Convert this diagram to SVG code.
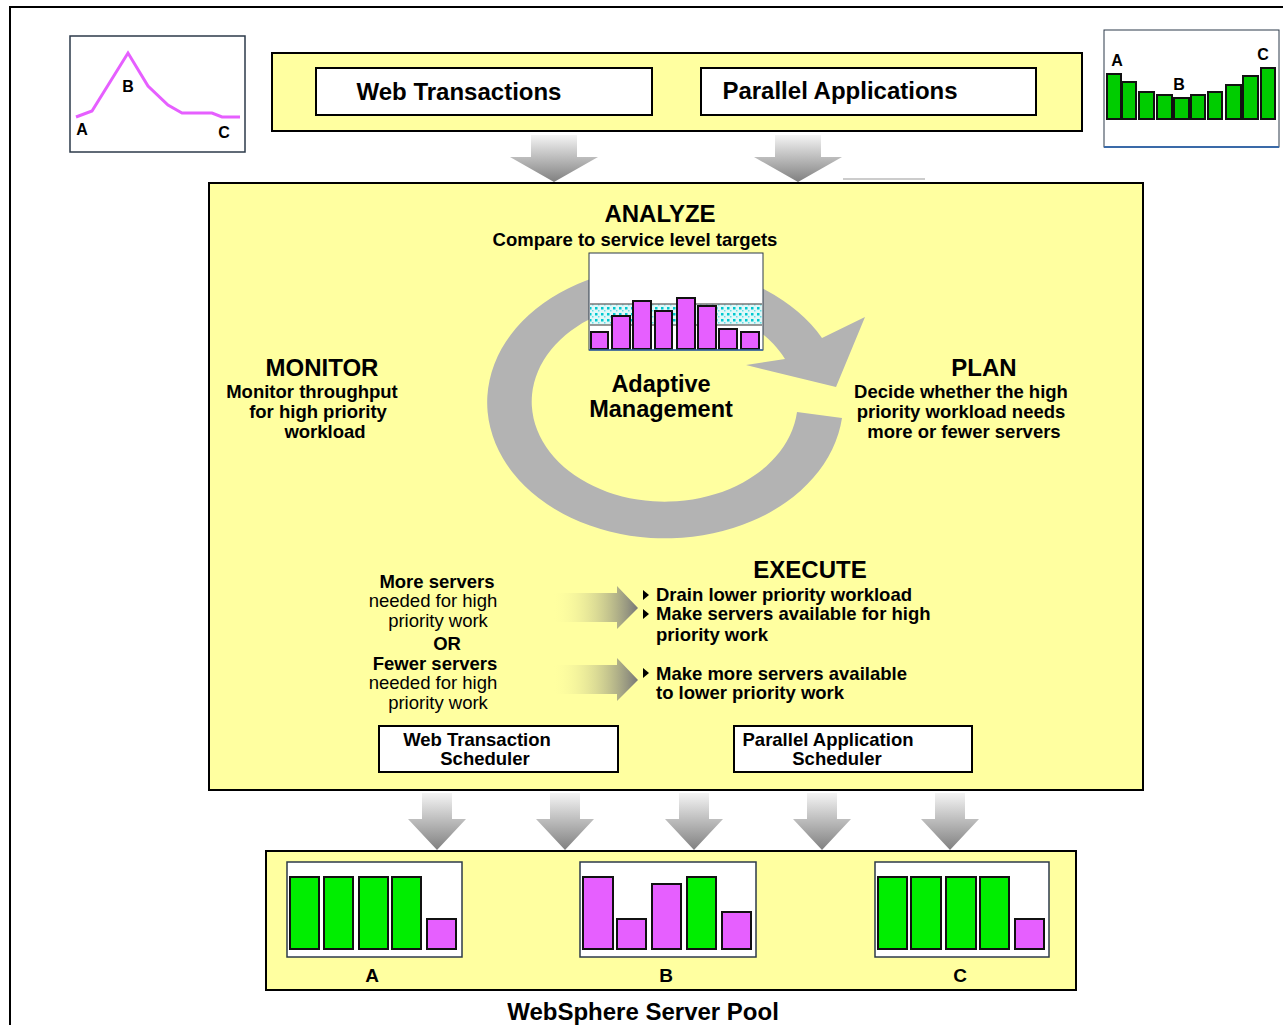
<svg xmlns="http://www.w3.org/2000/svg" width="1283" height="1025" viewBox="0 0 1283 1025">
<defs>
  <linearGradient id="gDown" x1="0" y1="0" x2="0" y2="1">
    <stop offset="0" stop-color="#f4f4f4"/>
    <stop offset="1" stop-color="#808080"/>
  </linearGradient>
  <linearGradient id="gRight" x1="0" y1="0" x2="1" y2="0">
    <stop offset="0" stop-color="#ffffa0" stop-opacity="0"/>
    <stop offset="1" stop-color="#777777"/>
  </linearGradient>
  <pattern id="dots" width="6" height="6" patternUnits="userSpaceOnUse">
    <rect width="6" height="6" fill="#dff8f8"/>
    <rect x="1" y="1" width="2.5" height="2.5" fill="#00c8d0"/>
    <rect x="4" y="4" width="1.5" height="1.5" fill="#60e0e8"/>
  </pattern>
  <path id="downBig" d="M-23,0 H23 V22 H44 L0,47 L-44,22 H-23 Z"/>
  <path id="downSmall" d="M-15,0 H15 V26 H29 L0,57 L-29,26 H-15 Z"/>
  <path id="rightArr" d="M0,7 H65 V0 L86,22 L65,43 V36 H0 Z"/>
  <path id="bullet" d="M0,-5 L6,0 L0,5 Z"/>
</defs>
<style>
  .b { font-family: "Liberation Sans", Arial, sans-serif; font-weight: bold; fill: #000; }
  .n { font-family: "Liberation Sans", Arial, sans-serif; font-weight: normal; fill: #000; }
  .yel { fill: #ffffa0; stroke: #000; stroke-width: 2; }
  .wbox { fill: #fff; stroke: #000; stroke-width: 2; }
  .chart { fill: #fff; stroke: #2c3a4a; stroke-width: 1.5; }
  .grn { fill: #00ee00; stroke: #111; stroke-width: 2; }
  .grn2 { fill: #00cc00; stroke: #111; stroke-width: 2; }
  .pnk { fill: #e65fff; stroke: #111; stroke-width: 2; }
  .gray { fill: url(#gDown); }
</style>
<rect width="1283" height="1025" fill="#fff"/>
<!-- outer frame -->
<path d="M10,1025 V7 H1283" fill="none" stroke="#000" stroke-width="2"/>

<!-- top-left chart -->
<g id="chart-left">
  <rect class="chart" x="70" y="36" width="175" height="116"/>
  <polyline points="76,117 92,111 128,53 148,86 168,105 182,113 212,113 222,117 240,117" fill="none" stroke="#e65fff" stroke-width="3"/>
  <text class="b" x="82" y="135" font-size="16" text-anchor="middle">A</text>
  <text class="b" x="128" y="92" font-size="16" text-anchor="middle">B</text>
  <text class="b" x="224" y="138" font-size="16" text-anchor="middle">C</text>
</g>

<!-- top-right chart -->
<g id="chart-right">
  <rect x="1104" y="30" width="175" height="117" fill="#fff" stroke="#2c3a4a" stroke-width="1"/>
  <line x1="1104" y1="147" x2="1279" y2="147" stroke="#3a6aa8" stroke-width="2"/>
  <rect class="grn2" x="1107" y="74" width="14" height="45"/>
  <rect class="grn2" x="1122" y="82" width="14" height="37"/>
  <rect class="grn2" x="1139" y="92" width="15" height="27"/>
  <rect class="grn2" x="1157" y="95" width="15" height="24"/>
  <rect class="grn2" x="1174" y="98" width="15" height="21"/>
  <rect class="grn2" x="1191" y="95" width="14" height="24"/>
  <rect class="grn2" x="1208" y="92" width="14" height="27"/>
  <rect class="grn2" x="1226" y="85" width="15" height="34"/>
  <rect class="grn2" x="1243" y="76" width="15" height="43"/>
  <rect class="grn2" x="1261" y="68" width="14" height="51"/>
  <text class="b" x="1117" y="66" font-size="16" text-anchor="middle">A</text>
  <text class="b" x="1179" y="90" font-size="16" text-anchor="middle">B</text>
  <text class="b" x="1263" y="60" font-size="16" text-anchor="middle">C</text>
</g>

<!-- top workload box -->
<g id="workloads">
  <rect class="yel" x="272" y="53" width="810" height="78"/>
  <rect class="wbox" x="316" y="68" width="336" height="47"/>
  <text class="b" x="459" y="100" font-size="24" text-anchor="middle">Web Transactions</text>
  <rect class="wbox" x="701" y="68" width="335" height="47"/>
  <text class="b" x="840" y="99" font-size="24" text-anchor="middle">Parallel Applications</text>
</g>

<!-- connectors -->
<g id="connectors">
  <use href="#downBig" class="gray" x="554" y="135"/>
  <use href="#downBig" class="gray" x="798" y="135"/>
  <line x1="843" y1="179" x2="925" y2="179" stroke="#999" stroke-width="1"/>
  <use href="#downSmall" class="gray" x="437" y="793"/>
  <use href="#downSmall" class="gray" x="565" y="793"/>
  <use href="#downSmall" class="gray" x="694" y="793"/>
  <use href="#downSmall" class="gray" x="822" y="793"/>
  <use href="#downSmall" class="gray" x="950" y="793"/>
</g>

<!-- main adaptive management box -->
<g id="adaptive">
  <rect class="yel" x="209" y="183" width="934" height="607"/>
  <!-- cycle arrow -->
  <path d="M836,387 L865,317 L822,338 A178,136 0 1 0 842,418 L797,412 A133,100 0 1 1 785,359 L746,365 Z" fill="#b3b3b3"/>
  <text class="b" x="660" y="222" font-size="24" text-anchor="middle">ANALYZE</text>
  <text class="b" x="635" y="246" font-size="18.5" text-anchor="middle">Compare to service level targets</text>
  <!-- analyze chart -->
  <rect x="589" y="253" width="174" height="97" fill="#fff" stroke="#2c3a4a" stroke-width="1"/>
  <rect x="590" y="304" width="172" height="21" fill="url(#dots)"/>
  <line x1="590" y1="304" x2="762" y2="304" stroke="#777" stroke-width="1.5"/>
  <line x1="590" y1="325" x2="762" y2="325" stroke="#777" stroke-width="1.5"/>
  <rect class="pnk" x="591" y="332" width="17" height="17"/>
  <rect class="pnk" x="612" y="316" width="18" height="33"/>
  <rect class="pnk" x="633" y="301" width="18" height="48"/>
  <rect class="pnk" x="655" y="311" width="17" height="38"/>
  <rect class="pnk" x="677" y="298" width="18" height="51"/>
  <rect class="pnk" x="698" y="306" width="18" height="43"/>
  <rect class="pnk" x="719" y="329" width="18" height="20"/>
  <rect class="pnk" x="741" y="332" width="18" height="17"/>
  <line x1="589" y1="350" x2="763" y2="350" stroke="#3a6aa8" stroke-width="1.5"/>

  <text class="b" x="661" y="392" font-size="23.5" text-anchor="middle">Adaptive</text>
  <text class="b" x="661" y="417" font-size="23.5" text-anchor="middle">Management</text>

  <text class="b" x="322" y="376" font-size="24" text-anchor="middle">MONITOR</text>
  <text class="b" x="312" y="398" font-size="18.5" text-anchor="middle">Monitor  throughput</text>
  <text class="b" x="318" y="418" font-size="18.5" text-anchor="middle">for high priority</text>
  <text class="b" x="325" y="438" font-size="18.5" text-anchor="middle">workload</text>

  <text class="b" x="984" y="376" font-size="24" text-anchor="middle">PLAN</text>
  <text class="b" x="961" y="398" font-size="18.5" text-anchor="middle">Decide whether the high</text>
  <text class="b" x="961" y="418" font-size="18.5" text-anchor="middle">priority workload needs</text>
  <text class="b" x="964" y="438" font-size="18.5" text-anchor="middle">more or fewer servers</text>

  <text class="b" x="810" y="578" font-size="24" text-anchor="middle">EXECUTE</text>
  <use href="#bullet" x="643" y="595"/>
  <use href="#bullet" x="643" y="614"/>
  <use href="#bullet" x="643" y="673"/>
  <text class="b" x="656" y="601" font-size="18.5">Drain lower priority workload</text>
  <text class="b" x="656" y="620" font-size="18.5">Make servers available for high</text>
  <text class="b" x="656" y="641" font-size="18.5">priority work</text>
  <text class="b" x="656" y="680" font-size="18.5">Make more servers available</text>
  <text class="b" x="656" y="699" font-size="18.5">to lower priority work</text>

  <text class="b" x="437" y="588" font-size="18.5" text-anchor="middle">More servers</text>
  <text class="n" x="433" y="607" font-size="18.5" text-anchor="middle">needed for high</text>
  <text class="n" x="438" y="627" font-size="18.5" text-anchor="middle">priority work</text>
  <text class="b" x="447" y="650" font-size="18.5" text-anchor="middle">OR</text>
  <text class="b" x="435" y="670" font-size="18.5" text-anchor="middle">Fewer servers</text>
  <text class="n" x="433" y="689" font-size="18.5" text-anchor="middle">needed for high</text>
  <text class="n" x="438" y="709" font-size="18.5" text-anchor="middle">priority work</text>

  <use href="#rightArr" fill="url(#gRight)" x="552" y="586"/>
  <use href="#rightArr" fill="url(#gRight)" x="552" y="658"/>
</g>

<g id="web-scheduler">
  <rect class="wbox" x="379" y="726" width="239" height="46"/>
  <text class="b" x="477" y="746" font-size="18.5" text-anchor="middle">Web Transaction</text>
  <text class="b" x="485" y="765" font-size="18.5" text-anchor="middle">Scheduler</text>
</g>
<g id="parallel-scheduler">
  <rect class="wbox" x="734" y="726" width="238" height="46"/>
  <text class="b" x="828" y="746" font-size="18.5" text-anchor="middle">Parallel Application</text>
  <text class="b" x="837" y="765" font-size="18.5" text-anchor="middle">Scheduler</text>
</g>

<!-- server pool -->
<g id="server-pool">
  <rect class="yel" x="266" y="851" width="810" height="139"/>
  <text class="b" x="643" y="1020" font-size="24" text-anchor="middle">WebSphere Server Pool</text>
</g>
<g id="server-A">
  <rect class="chart" x="287" y="862" width="175" height="95"/>
  <rect class="grn" x="290" y="877" width="29" height="72"/>
  <rect class="grn" x="324" y="877" width="29" height="72"/>
  <rect class="grn" x="359" y="877" width="29" height="72"/>
  <rect class="grn" x="392" y="877" width="29" height="72"/>
  <rect class="pnk" x="427" y="919" width="29" height="30"/>
  <text class="b" x="372" y="982" font-size="19" text-anchor="middle">A</text>
</g>
<g id="server-B">
  <rect class="chart" x="580" y="862" width="176" height="95"/>
  <rect class="pnk" x="583" y="877" width="30" height="72"/>
  <rect class="pnk" x="617" y="919" width="29" height="30"/>
  <rect class="pnk" x="652" y="884" width="29" height="65"/>
  <rect class="grn" x="687" y="877" width="29" height="72"/>
  <rect class="pnk" x="722" y="912" width="29" height="37"/>
  <text class="b" x="666" y="982" font-size="19" text-anchor="middle">B</text>
</g>
<g id="server-C">
  <rect class="chart" x="875" y="862" width="174" height="95"/>
  <rect class="grn" x="878" y="877" width="29" height="72"/>
  <rect class="grn" x="911" y="877" width="30" height="72"/>
  <rect class="grn" x="946" y="877" width="30" height="72"/>
  <rect class="grn" x="980" y="877" width="29" height="72"/>
  <rect class="pnk" x="1015" y="919" width="29" height="30"/>
  <text class="b" x="960" y="982" font-size="19" text-anchor="middle">C</text>
</g>
</svg>
